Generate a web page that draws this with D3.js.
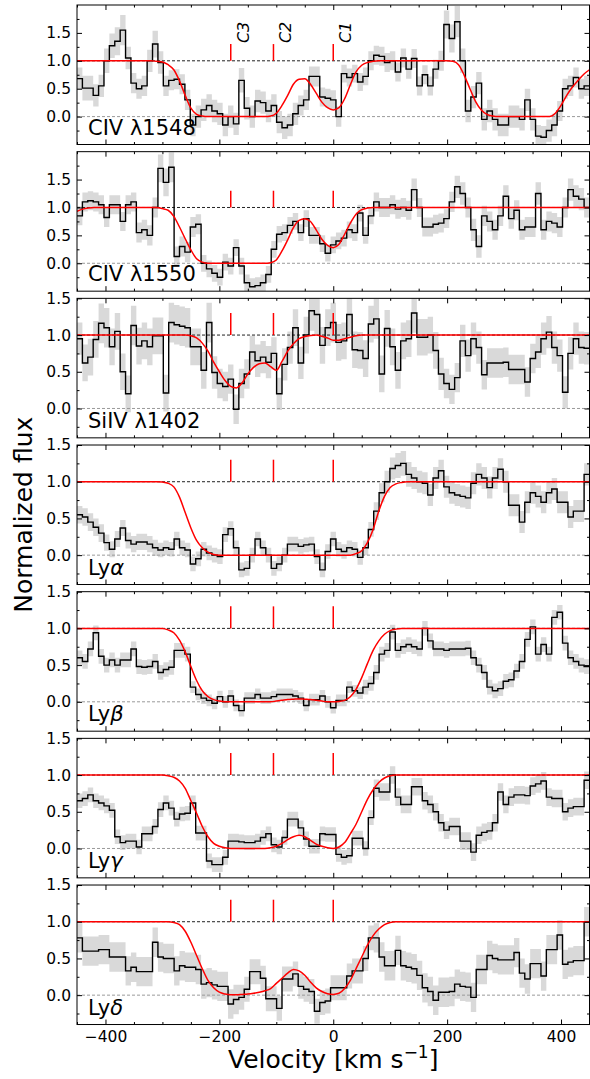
<!DOCTYPE html>
<html><head><meta charset="utf-8">
<script src="https://cdn.jsdelivr.net/npm/d3@7"></script>
<style>body{margin:0;background:#fff}svg{display:block;font-family:"DejaVu Sans",sans-serif}</style>
</head><body><svg id="chart" width="590" height="1079"></svg>
<script>
// ---------------- DATA ----------------
const panelNames = ["CIV λ1548","CIV λ1550","SiIV λ1402","Ly","Ly","Ly","Ly"];
const panelGreek = ["","","","α","β","γ","δ"];
const yDomains = [[-0.5,2.0],[-0.5,2.0],[-0.4,1.5],[-0.4,1.5],[-0.4,1.5],[-0.4,1.5],[-0.4,1.5]];
const yTickValues = [0.0,0.5,1.0,1.5];
const xTickValues = [-400,-200,0,200,400];
const componentNames = ["C3","C2","C1"];
const componentVelocity = [-180,-105,0];

// normalized flux, 95 pixels from -450 to +450 km/s
const fluxCIV1548 = [0.68,0.51,0.51,0.38,0.55,1.0,1.27,1.35,1.55,
 1.05,0.6,0.5,0.55,1.0,1.3,0.97,0.55,0.65,0.67,0.58,0.3,-0.15,0.0,0.12,0.2,0.1,0.05,-0.15,0.0,-0.13,
 0.65,
 0.15,0.0,0.28,0.25,0.1,0.2,-0.1,-0.2,-0.15,0.05,0.2,0.3,0.72,0.72,0.35,0.33,0.3,
 0.0,
 0.77,0.7,0.77,0.62,0.72,1.0,1.1,1.08,0.97,1.0,0.8,1.05,0.85,1.04,0.55,0.75,0.55,0.85,1.0,
 1.65,1.4,1.7,
 1.0,0.1,0.35,0.6,-0.05,0.1,-0.05,-0.15,-0.15,0.0,0.0,-0.05,0.3,-0.05,-0.35,-0.37,-0.25,-0.15,0.1,0.5,0.55,0.7,0.5,0.55];
const errCIV1548 = [0.2,0.22,0.22,0.2,0.2,0.22,0.22,0.25,0.27,
 0.2,0.18,0.18,0.18,0.2,0.24,0.2,0.18,0.18,0.18,0.18,0.18,0.2,0.2,0.2,0.2,0.2,0.2,0.2,0.2,0.2,
 0.22,
 0.2,0.2,0.2,0.2,0.2,0.2,0.2,0.2,0.2,0.2,0.18,0.18,0.18,0.18,0.17,0.17,0.17,
 0.18,
 0.16,0.16,0.16,0.16,0.16,0.17,0.17,0.17,0.17,0.17,0.17,0.17,0.17,0.17,0.17,0.17,0.17,0.17,0.18,
 0.25,0.25,0.28,
 0.22,0.2,0.2,0.2,0.2,0.2,0.2,0.2,0.2,0.2,0.2,0.2,0.2,0.2,0.2,0.2,0.2,0.2,0.18,0.18,0.18,0.18,0.18,0.18];

const fluxCIV1550 = [0.85,1.1,1.12,1.1,1.05,0.82,1.05,1.05,0.75,1.05,
 1.1,0.55,0.6,0.5,1.0,1.7,1.45,1.72,0.12,0.3,
 0.2,0.65,0.7,0.0,-0.1,-0.18,-0.25,0.02,-0.05,0.28,
 -0.05,-0.35,-0.42,-0.4,-0.35,-0.2,0.25,0.52,0.55,0.68,
 0.75,0.55,0.8,0.5,0.5,0.35,0.18,0.33,0.4,0.45,
 0.6,0.55,0.9,0.5,0.85,1.1,1.0,1.0,1.05,0.97,
 1.0,0.95,1.32,1.0,0.65,0.65,0.7,0.72,0.8,1.1,
 1.37,1.25,1.0,0.6,0.3,0.85,0.75,0.6,0.85,1.2,
 0.8,0.95,0.6,0.65,0.65,1.25,0.6,0.75,0.72,0.65,
 1.0,1.32,1.2,1.15,1.0];
const errCIV1550 = [0.17,0.17,0.17,0.17,0.17,0.17,0.17,0.17,0.17,0.17,
 0.17,0.18,0.18,0.18,0.18,0.25,0.25,0.27,0.18,0.18,
 0.18,0.18,0.18,0.15,0.15,0.15,0.15,0.15,0.15,0.15,
 0.15,0.15,0.15,0.15,0.15,0.15,0.15,0.15,0.15,0.15,
 0.15,0.15,0.15,0.15,0.15,0.15,0.15,0.15,0.15,0.15,
 0.15,0.15,0.15,0.15,0.15,0.17,0.17,0.17,0.17,0.17,
 0.17,0.17,0.2,0.17,0.17,0.17,0.17,0.17,0.17,0.18,
 0.2,0.2,0.18,0.2,0.2,0.18,0.18,0.18,0.18,0.2,
 0.18,0.18,0.18,0.18,0.18,0.2,0.18,0.18,0.18,0.18,
 0.18,0.2,0.2,0.2,0.18];

const fluxSiIV1402 = [0.95,0.62,0.7,0.94,1.16,1.1,0.84,1.05,0.5,0.2,
 1.13,0.85,0.92,0.84,0.99,0.99,0.21,1.17,1.14,1.12,
 1.1,0.84,0.84,0.52,1.17,0.49,0.34,0.3,0.4,-0.01,
 0.34,0.47,0.77,0.65,0.7,0.63,0.75,0.2,0.6,0.83,
 1.1,0.62,1.0,1.33,1.28,0.86,1.1,1.17,0.9,0.92,
 1.28,0.8,0.79,0.68,1.15,1.22,0.47,1.09,0.84,0.52,
 0.92,0.95,1.3,0.97,0.97,1.0,0.79,0.47,0.34,0.26,
 0.42,0.92,0.72,0.95,0.83,0.46,0.62,0.62,0.62,0.63,
 0.53,0.53,0.53,0.36,0.68,0.77,0.95,1.04,0.83,0.72,
 0.22,0.75,0.95,0.83,0.82];
const errSiIV1402 = [0.22,0.25,0.25,0.25,0.27,0.27,0.25,0.25,0.25,0.25,
 0.27,0.25,0.25,0.25,0.25,0.25,0.25,0.27,0.27,0.27,
 0.27,0.25,0.25,0.25,0.27,0.22,0.2,0.2,0.2,0.2,
 0.2,0.2,0.22,0.22,0.22,0.22,0.22,0.22,0.22,0.22,
 0.25,0.22,0.25,0.27,0.27,0.25,0.25,0.27,0.25,0.25,
 0.27,0.25,0.25,0.25,0.25,0.27,0.25,0.25,0.25,0.25,
 0.25,0.25,0.27,0.25,0.25,0.25,0.25,0.22,0.2,0.2,
 0.2,0.22,0.22,0.22,0.22,0.2,0.2,0.2,0.2,0.2,
 0.2,0.2,0.2,0.2,0.2,0.22,0.22,0.22,0.22,0.22,
 0.22,0.22,0.22,0.22,0.22];

const fluxLya = [0.55,0.52,0.45,0.38,0.3,0.17,0.08,0.22,0.37,0.2,
 0.15,0.18,0.18,0.15,0.1,0.07,0.1,0.08,0.22,0.1,
 0.07,-0.12,-0.05,0.08,0.03,0.0,-0.02,0.28,0.36,0.1,
 -0.2,-0.18,0.0,0.22,0.1,0.0,-0.18,-0.12,0.0,0.15,
 0.15,0.12,0.14,0.15,-0.02,-0.2,0.05,0.22,0.08,0.05,
 0.1,0.08,-0.03,0.1,0.35,0.6,0.85,1.0,1.18,1.22,
 1.25,1.1,1.05,1.0,0.98,0.82,1.05,1.15,0.93,0.85,
 0.82,0.8,0.78,0.98,1.1,1.05,0.92,1.05,1.17,1.0,
 0.68,0.68,0.45,0.72,0.85,0.8,0.72,0.85,0.9,0.72,
 0.72,0.52,0.6,0.6,1.1];
const errLya = [0.12,0.12,0.12,0.12,0.12,0.11,0.11,0.11,0.11,0.11,
 0.11,0.11,0.11,0.11,0.11,0.1,0.1,0.1,0.1,0.1,
 0.1,0.1,0.1,0.1,0.1,0.1,0.1,0.1,0.1,0.1,
 0.1,0.1,0.1,0.1,0.1,0.1,0.1,0.1,0.1,0.1,
 0.1,0.1,0.1,0.1,0.1,0.1,0.1,0.1,0.1,0.1,
 0.1,0.1,0.1,0.1,0.1,0.12,0.13,0.15,0.15,0.17,
 0.17,0.17,0.15,0.15,0.15,0.15,0.15,0.15,0.15,0.15,
 0.15,0.15,0.15,0.15,0.15,0.15,0.15,0.15,0.15,0.15,
 0.15,0.15,0.15,0.15,0.15,0.15,0.15,0.15,0.15,0.15,
 0.15,0.15,0.15,0.15,0.15];

const fluxLyb = [0.6,0.55,0.72,0.94,0.62,0.5,0.57,0.5,0.57,0.57,
 0.72,0.48,0.47,0.48,0.55,0.4,0.44,0.47,0.7,0.7,
 0.65,0.2,0.1,0.05,0.02,-0.02,0.07,0.0,0.08,-0.05,
 -0.12,0.05,0.05,0.1,0.05,0.05,0.07,0.1,0.1,0.1,
 0.08,0.05,-0.05,0.03,0.03,0.08,0.0,-0.08,0.02,0.02,
 0.2,0.15,0.12,0.2,0.25,0.4,0.65,0.7,0.95,0.7,
 0.75,0.78,0.75,0.72,1.0,0.83,0.72,0.72,0.7,0.72,
 0.72,0.72,0.73,0.6,0.5,0.4,0.2,0.15,0.18,0.28,
 0.3,0.42,0.55,0.85,1.02,0.65,0.78,0.65,1.15,1.22,
 0.8,0.6,0.55,0.5,0.48];
const errLyb = [0.1,0.1,0.1,0.1,0.1,0.1,0.1,0.1,0.1,0.1,
 0.1,0.1,0.1,0.1,0.1,0.1,0.1,0.1,0.1,0.1,
 0.1,0.08,0.08,0.08,0.08,0.08,0.08,0.08,0.08,0.08,
 0.08,0.08,0.08,0.08,0.08,0.08,0.08,0.08,0.08,0.08,
 0.08,0.08,0.08,0.08,0.08,0.08,0.08,0.08,0.08,0.08,
 0.08,0.08,0.08,0.1,0.1,0.1,0.1,0.1,0.1,0.1,
 0.1,0.1,0.1,0.1,0.1,0.1,0.1,0.1,0.1,0.1,
 0.1,0.1,0.1,0.1,0.1,0.1,0.1,0.1,0.1,0.1,
 0.1,0.1,0.1,0.1,0.1,0.1,0.1,0.1,0.1,0.1,
 0.1,0.1,0.1,0.1,0.1];

const fluxLyg = [0.65,0.68,0.73,0.65,0.62,0.58,0.52,0.16,0.08,0.1,
 0.1,0.02,0.2,0.2,0.3,0.53,0.62,0.55,0.4,0.47,
 0.48,0.62,0.21,0.21,-0.17,-0.22,-0.22,-0.12,0.1,0.1,
 0.09,0.08,0.08,0.1,0.15,0.2,0.05,0.02,0.15,0.4,
 0.4,0.28,0.13,0.03,0.03,0.2,0.19,0.19,-0.08,-0.12,
 -0.1,0.14,0.14,0.0,0.42,0.82,0.77,0.77,1.0,0.7,
 0.6,0.6,0.84,0.84,0.65,0.6,0.5,0.35,0.25,0.3,
 0.3,0.1,0.1,-0.05,0.18,0.22,0.24,0.35,0.77,0.6,
 0.7,0.73,0.73,0.72,0.85,0.88,0.92,0.7,0.68,0.68,
 0.5,0.55,0.57,0.57,0.93];
const errLyg = [0.1,0.1,0.1,0.1,0.1,0.1,0.1,0.1,0.1,0.1,
 0.1,0.1,0.1,0.1,0.1,0.1,0.1,0.1,0.1,0.1,
 0.1,0.1,0.1,0.1,0.1,0.1,0.1,0.1,0.1,0.1,
 0.1,0.1,0.1,0.1,0.1,0.1,0.1,0.1,0.1,0.1,
 0.1,0.1,0.1,0.1,0.1,0.1,0.1,0.1,0.1,0.1,
 0.1,0.1,0.1,0.1,0.1,0.12,0.12,0.12,0.12,0.12,
 0.12,0.12,0.12,0.12,0.12,0.12,0.12,0.12,0.12,0.12,
 0.12,0.12,0.12,0.12,0.12,0.12,0.12,0.12,0.12,0.12,
 0.12,0.12,0.12,0.12,0.12,0.12,0.12,0.12,0.12,0.12,
 0.12,0.12,0.12,0.12,0.12];

const fluxLyd = [0.78,0.6,0.6,0.6,0.62,0.62,0.52,0.52,0.52,0.33,
 0.38,0.32,0.32,0.32,0.72,0.52,0.5,0.5,0.33,0.4,
 0.38,0.38,0.35,0.15,0.17,0.14,0.12,0.12,-0.12,-0.06,
 -0.03,0.08,0.32,0.32,0.23,-0.05,-0.05,-0.18,0.22,0.22,
 0.29,0.12,0.08,0.05,-0.22,-0.1,-0.08,0.1,0.1,0.1,
 0.26,0.33,0.33,0.5,0.78,0.78,0.52,0.4,0.4,0.61,
 0.4,0.38,0.36,0.27,0.1,0.05,-0.07,0.04,0.04,0.05,
 0.15,0.12,0.11,-0.03,0.35,0.35,0.54,0.5,0.48,0.48,
 0.48,0.58,0.3,0.22,0.43,0.43,0.26,0.62,0.62,0.82,
 0.42,0.45,0.47,0.47,1.0];
const errLyd = [0.2,0.2,0.2,0.2,0.2,0.2,0.2,0.2,0.2,0.2,
 0.2,0.2,0.2,0.2,0.2,0.2,0.2,0.2,0.2,0.2,
 0.2,0.2,0.2,0.2,0.2,0.2,0.2,0.2,0.2,0.2,
 0.17,0.17,0.17,0.17,0.17,0.17,0.17,0.17,0.17,0.17,
 0.17,0.17,0.17,0.17,0.17,0.17,0.17,0.17,0.17,0.17,
 0.17,0.17,0.17,0.17,0.17,0.2,0.2,0.2,0.2,0.2,
 0.2,0.2,0.2,0.2,0.2,0.2,0.2,0.2,0.2,0.2,
 0.2,0.2,0.2,0.2,0.2,0.2,0.2,0.2,0.2,0.2,
 0.2,0.2,0.2,0.2,0.2,0.2,0.2,0.2,0.2,0.2,
 0.2,0.2,0.2,0.2,0.2];

// model profiles sampled every 10 km/s from -450 to +450
const modelCIV1548 = [1,1,1,1,1,1,1,1,1,1,1,1,1,1,
 0.99,0.98,0.93,0.84,0.64,0.38,0.15,0.04,0.01,
 0,0,0,0,0,0,0,0,0,0,0,
 0.01,0.06,0.2,0.38,0.58,0.67,0.68,0.58,0.42,0.26,0.16,0.12,0.16,0.32,0.57,0.8,0.92,0.97,0.99,
 1,1,1,1,1,1,1,1,1,1,1,1,1,
 0.99,0.93,0.74,0.5,0.27,0.12,0.04,0.01,
 0,0,0,0,0,0,0,0,0,0,
 0.06,0.2,0.38,0.53,0.65,0.76,0.84];
const modelCIV1550 = [0.93,0.97,0.99,
 1,1,1,1,1,1,1,1,1,1,1,1,
 0.98,0.95,0.84,0.65,0.44,0.24,0.08,0.02,
 0,0,0,0,0,0,0,0,0,0,0,
 0.01,0.06,0.22,0.42,0.64,0.77,0.8,0.75,0.6,0.43,0.32,0.28,0.34,0.52,0.72,0.88,0.96,0.99,
 1,1,1,1,1,1,1,1,1,1,1,1,1,1,1,1,1,1,1,1,1,1,1,1,1,1,1,1,1,1,1,1,1,1,1,1,1,1,1];
const modelSiIV1402 = [1,1,1,1,1,1,1,1,1,1,1,1,1,1,1,1,1,1,1,1,
 0.99,0.96,0.89,0.78,0.63,0.5,0.38,0.3,0.28,0.35,0.47,0.56,0.61,0.62,0.57,0.52,0.64,0.78,0.88,0.95,
 0.98,0.995,1.0,0.985,0.96,0.93,0.93,0.95,0.97,0.99,
 1,1,1,1,1,1,1,1,1,1,1,1,1,1,1,1,1,1,1,1,1,1,1,1,1,1,1,1,1,1,1,1,1,1,1,1,1,1,1,1,1];
const modelLya = [1,1,1,1,1,1,1,1,1,1,1,1,1,1,1,
 0.995,0.98,0.93,0.79,0.58,0.37,0.2,0.1,0.04,
 0.01,0,0,0,0,0,0,0,0,0,0,0,0,0,0,0,0,0,0,0,0,0,0,0,0,
 0.02,
 0.06,0.17,0.35,0.6,0.8,0.92,0.97,0.99,
 1,1,1,1,1,1,1,1,1,1,1,1,1,1,1,1,1,1,1,1,1,1,1,1,1,1,1,1,1,1,1,1,1];
const modelLyb = [1,1,1,1,1,1,1,1,1,1,1,1,1,1,1,1,
 0.98,0.94,0.84,0.68,0.48,0.29,0.15,0.07,0.03,0.01,
 0,0,0,0,0,0,0,0,0,
 0.01,0.02,0.03,0.035,0.04,0.035,0.03,0.02,0.01,
 0,0,0.005,0.02,
 0.07,0.17,0.33,0.52,0.7,0.83,0.92,0.97,0.99,
 1,1,1,1,1,1,1,1,1,1,1,1,1,1,1,1,1,1,1,1,1,1,1,1,1,1,1,1,1,1,1,1,1,1];
const modelLyg = [1,1,1,1,1,1,1,1,1,1,1,1,1,1,1,1,
 0.99,0.97,0.92,0.82,0.65,0.48,0.3,0.16,0.07,0.03,0.01,
 0,0,0,0,0,0,0,
 0.01,0.03,0.07,0.12,0.16,0.18,0.16,0.11,0.06,0.03,0.01,0,0.02,0.08,0.2,0.33,0.5,0.67,0.8,0.9,0.96,0.99,
 1,1,1,1,1,1,1,1,1,1,1,1,1,1,1,1,1,1,1,1,1,1,1,1,1,1,1,1,1,1,1,1,1,1,1];
const modelLyd = [1,1,1,1,1,1,1,1,1,1,1,1,1,1,1,1,1,
 0.99,0.96,0.87,0.72,0.54,0.36,0.2,0.1,0.04,0.015,0.005,0.005,0.01,0.015,0.025,0.04,0.06,0.09,0.16,0.23,0.3,0.35,0.33,0.27,0.18,0.1,0.05,0.02,0.01,0.025,0.09,0.2,0.36,0.52,0.68,0.81,0.9,0.96,0.99,
 1,1,1,1,1,1,1,1,1,1,1,1,1,1,1,1,1,1,1,1,1,1,1,1,1,1,1,1,1,1,1,1,1,1,1];

const fluxes = [fluxCIV1548, fluxCIV1550, fluxSiIV1402, fluxLya, fluxLyb, fluxLyg, fluxLyd];
const errors = [errCIV1548, errCIV1550, errSiIV1402, errLya, errLyb, errLyg, errLyd];
const models = [modelCIV1548, modelCIV1550, modelSiIV1402, modelLya, modelLyb, modelLyg, modelLyd];

// ---------------- DRAW ----------------
const svg = d3.select("#chart");
const x = d3.scaleLinear().domain([-450, 450]).range([77, 589.5]);
const modelVelocity = d3.range(-450, 451, 10);
const minorX = d3.range(-450, 451, 50).filter(v => !xTickValues.includes(v));
const panelTop0 = 5, panelStep = 146.67, panelH = 139.5;
const tickFont = 15.5;

fluxes.forEach((flux, i) => {
  const top = panelTop0 + i * panelStep, bottom = top + panelH;
  const y = d3.scaleLinear().domain(yDomains[i]).range([bottom, top]);
  const n = flux.length, binW = 900 / n;
  const pts = flux.map((f, k) => ({v: -450 + binW * (k + 0.5), f, e: errors[i][k]}));
  const ext = [{v: -450, f: pts[0].f, e: pts[0].e}, ...pts, {v: 450, f: pts[n-1].f, e: pts[n-1].e}];

  const clipId = "clip" + i;
  svg.append("clipPath").attr("id", clipId).append("rect")
    .attr("x", x(-450)).attr("y", top).attr("width", x(450) - x(-450)).attr("height", panelH);
  const g = svg.append("g");
  const plot = g.append("g").attr("clip-path", `url(#${clipId})`);

  plot.append("path").datum(ext)
    .attr("d", d3.area().x(d => x(d.v)).y0(d => y(d.f - d.e)).y1(d => y(d.f + d.e)).curve(d3.curveStep))
    .attr("fill", "#d9d9d9");
  plot.append("line").attr("x1", x(-450)).attr("x2", x(450)).attr("y1", y(1)).attr("y2", y(1))
    .attr("stroke", "#222").attr("stroke-width", 1).attr("stroke-dasharray", "3,2");
  plot.append("line").attr("x1", x(-450)).attr("x2", x(450)).attr("y1", y(0)).attr("y2", y(0))
    .attr("stroke", "#9a9a9a").attr("stroke-width", 1).attr("stroke-dasharray", "3,2");
  plot.append("path").datum(ext)
    .attr("d", d3.line().x(d => x(d.v)).y(d => y(d.f)).curve(d3.curveStep))
    .attr("fill", "none").attr("stroke", "#000").attr("stroke-width", 1.4);
  plot.append("path").datum(modelVelocity.map((v, k) => ({v, f: models[i][k]})))
    .attr("d", d3.line().x(d => x(d.v)).y(d => y(d.f)).curve(d3.curveMonotoneX))
    .attr("fill", "none").attr("stroke", "#ff0000").attr("stroke-width", 1.5);

  componentVelocity.forEach((cv, k) => {
    g.append("line").attr("x1", x(cv)).attr("x2", x(cv)).attr("y1", y(1.0)).attr("y2", y(1.3))
      .attr("stroke", "#ff0000").attr("stroke-width", 1.5);
    if (i === 0) {
      g.append("text").attr("transform", `translate(${x(cv) + 18},${y(1.3) - 1}) rotate(-90)`)
        .attr("font-size", 16).attr("font-style", "italic").attr("fill", "#000")
        .text(componentNames[k]);
    }
  });

  // axes with inward ticks on all sides
  const yMinor = d3.range(-0.25, yDomains[i][1], 0.5).filter(v => v > yDomains[i][0]);
  const strip = s => s.call(a => a.select(".domain").remove());
  const fmtY = d3.format(".1f");
  strip(g.append("g").attr("transform", `translate(0,${bottom})`)
    .call(d3.axisBottom(x).tickValues(xTickValues).tickSizeInner(-5).tickSizeOuter(0).tickPadding(6)
      .tickFormat(i === 6 ? d3.format("d") : () => "")));
  strip(g.append("g").attr("transform", `translate(0,${bottom})`)
    .call(d3.axisBottom(x).tickValues(minorX).tickSizeInner(-2.5).tickSizeOuter(0).tickFormat(() => "")));
  strip(g.append("g").attr("transform", `translate(0,${top})`)
    .call(d3.axisTop(x).tickValues(xTickValues).tickSizeInner(-5).tickSizeOuter(0).tickFormat(() => "")));
  strip(g.append("g").attr("transform", `translate(0,${top})`)
    .call(d3.axisTop(x).tickValues(minorX).tickSizeInner(-2.5).tickSizeOuter(0).tickFormat(() => "")));
  strip(g.append("g").attr("transform", `translate(${x(-450)},0)`)
    .call(d3.axisLeft(y).tickValues(yTickValues).tickSizeInner(-5).tickSizeOuter(0).tickPadding(6).tickFormat(fmtY)));
  strip(g.append("g").attr("transform", `translate(${x(-450)},0)`)
    .call(d3.axisLeft(y).tickValues(yMinor).tickSizeInner(-2.5).tickSizeOuter(0).tickFormat(() => "")));
  strip(g.append("g").attr("transform", `translate(${x(450)},0)`)
    .call(d3.axisRight(y).tickValues(yTickValues).tickSizeInner(-5).tickSizeOuter(0).tickFormat(() => "")));
  strip(g.append("g").attr("transform", `translate(${x(450)},0)`)
    .call(d3.axisRight(y).tickValues(yMinor).tickSizeInner(-2.5).tickSizeOuter(0).tickFormat(() => "")));
  g.selectAll(".tick text").attr("font-size", tickFont).attr("font-family", "DejaVu Sans").attr("fill", "#000");

  g.append("rect").attr("x", x(-450)).attr("y", top).attr("width", x(450) - x(-450)).attr("height", panelH)
    .attr("fill", "none").attr("stroke", "#000").attr("stroke-width", 1);

  const lbl = g.append("text").attr("x", 88).attr("y", bottom - 10).attr("font-size", 21).attr("fill", "#000");
  lbl.append("tspan").text(panelNames[i]);
  if (panelGreek[i]) lbl.append("tspan").attr("font-style", "italic").text(panelGreek[i]);
});

svg.append("text").attr("transform", `translate(32,${(panelTop0 + panelTop0 + 6 * panelStep + panelH) / 2}) rotate(-90)`)
  .attr("text-anchor", "middle").attr("font-size", 25).text("Normalized flux");
const xl = svg.append("text").attr("x", (x(-450) + x(450)) / 2).attr("y", 1068)
  .attr("text-anchor", "middle").attr("font-size", 25);
xl.append("tspan").text("Velocity [km s");
xl.append("tspan").attr("font-size", 17).attr("dy", -10).text("−1");
xl.append("tspan").attr("dy", 10).text("]");
</script></body></html>
